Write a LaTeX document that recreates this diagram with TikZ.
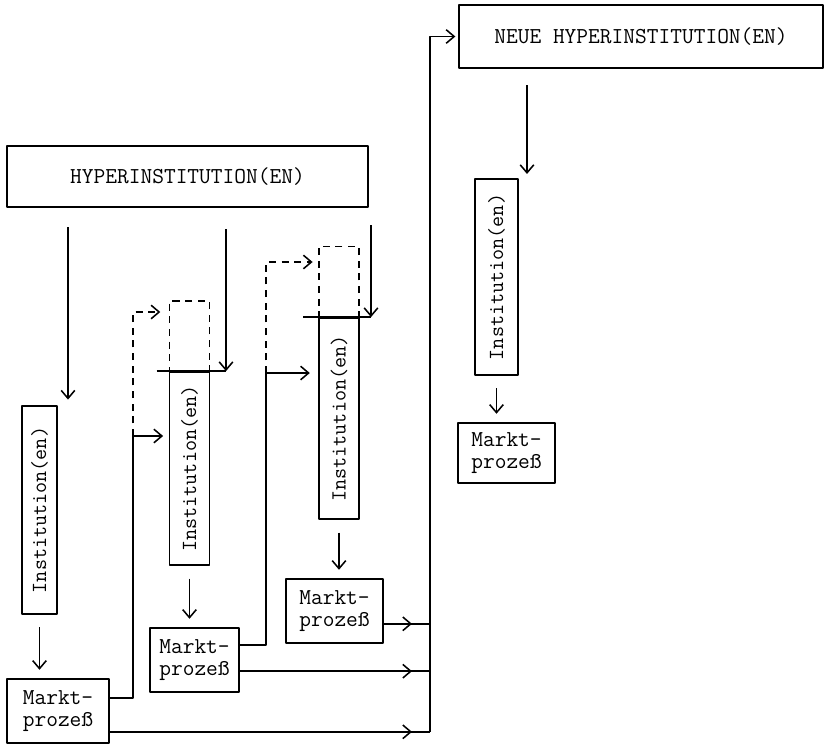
\documentclass[tikz,border=0pt]{standalone}
\usepackage{fontspec}
\usetikzlibrary{arrows.meta,calc}
\usetikzlibrary{positioning,decorations.markings}
\tikzset{box/.style={draw,inner sep=0pt},
  inst/.style={box,minimum width=1cm},
  markt/.style={box,align=left,minimum height=1.6cm},
  dashy/.style={dash pattern=on 5pt off 4pt},
  ghost/.style={draw,dashy,minimum width=1cm,inner sep=0pt},
  drop/.style={->,shorten <=9pt,shorten >=6pt},
  feed/.style={postaction={decorate},decoration={markings,mark=at position -0.45cm with {\arrow{>}}}}}
\newcommand{\instlab}{\rotatebox{90}{\fontsize{15.3pt}{17pt}\selectfont Institution(en)}}

\begin{document}
\begin{tikzpicture}[x=0.025cm,y=-0.025cm,>={Straight Barb[length=2mm,width=3.4mm]},line width=1.1pt,line join=round,font=\ttfamily\fontsize{16.2pt}{15.6pt}\selectfont]
\useasboundingbox (0,0) rectangle (824,745);
% --- hyperinstitutions
\node[box,minimum width=9.03cm,minimum height=1.53cm] (hyper) at (187.5,176.5) {HYPERINSTITUTION(EN)};
\node[box,minimum width=9.1cm,minimum height=1.58cm] (neue) at (641,36.5) {NEUE HYPERINSTITUTION(EN)};
% --- institutions and market processes
\node[inst,minimum width=0.88cm,minimum height=5.2cm] (inst1) at (39.5,510) {\instlab};
\node[inst,minimum height=4.83cm] (inst2) at (189.5,468.5) {\instlab};
\node[inst,minimum height=5.03cm] (inst3) at (339,418.5) {\instlab};
\node[inst,minimum width=1.08cm,minimum height=4.9cm] (inst4) at (496.5,277) {\instlab};
\node[ghost,minimum height=1.73cm,above=0pt of inst2] (ghost1) {};
\node[ghost,minimum height=1.75cm,above=0pt of inst3] (ghost2) {};
\node[markt,minimum width=2.55cm] (markt1) at (58,711) {Markt-\\prozeß};
\node[markt,minimum width=2.23cm] (markt2) at (194.5,660) {Markt-\\prozeß};
\node[markt,minimum width=2.43cm] (markt3) at (334.5,611) {Markt-\\prozeß};
\node[markt,minimum width=2.43cm,minimum height=1.5cm] (markt4) at (506.5,453) {Markt-\\prozeß};
% --- from above
\coordinate (h1) at (68,227); \coordinate (h2) at (226,229); \coordinate (h3) at (371,225); \coordinate (h4) at (527,85);
\draw[->,shorten >=4pt] (h1) -- (h1 |- inst1.north);
\draw[->] (h2) -- (h2 |- inst2.north); \draw ([xshift=-0.3cm]inst2.north west) -- (h2 |- inst2.north);
\draw[->] (h3) -- (h3 |- inst3.north); \draw ([xshift=-0.38cm]inst3.north west) -- (h3 |- inst3.north);
\draw[->,shorten >=3pt] (h4) -- (h4 |- inst4.north);
\foreach \i in {1,...,4} \draw[drop] (inst\i.south) -- (inst\i.south |- markt\i.north);
% --- market process feeds the next stage
\coordinate (k1) at (133,436); \coordinate (d1) at (133,312);
\draw[->,shorten >=4pt] ([yshift=0.32cm]markt1.east) -| (k1) -- (k1 -| inst2.west);
\draw[dashy,->,shorten >=6pt] (k1) -- (d1) -- (d1 -| ghost1.west);
\coordinate (k2) at (266,373); \coordinate (d2) at (266,262);
\draw[->,shorten >=6pt] ([yshift=0.38cm]markt2.east) -| (k2) -- (k2 -| inst3.west);
\draw[dashy,->,shorten >=4pt] (k2) -- (d2) -- (d2 -| ghost2.west);
% --- and the new hyperinstitution
\coordinate (bus) at (430,732);
\coordinate (f1) at ([yshift=-0.52cm]markt1.east); \coordinate (f2) at ([yshift=-0.28cm]markt2.east); \coordinate (f3) at ([yshift=-0.32cm]markt3.east);
\foreach \i in {1,2,3} \draw[feed] (f\i) -- (f\i -| bus);
\draw[->,shorten >=2pt] (f1 -| bus) -- (bus |- neue.west) -- (neue.west);
\end{tikzpicture}
\end{document}
